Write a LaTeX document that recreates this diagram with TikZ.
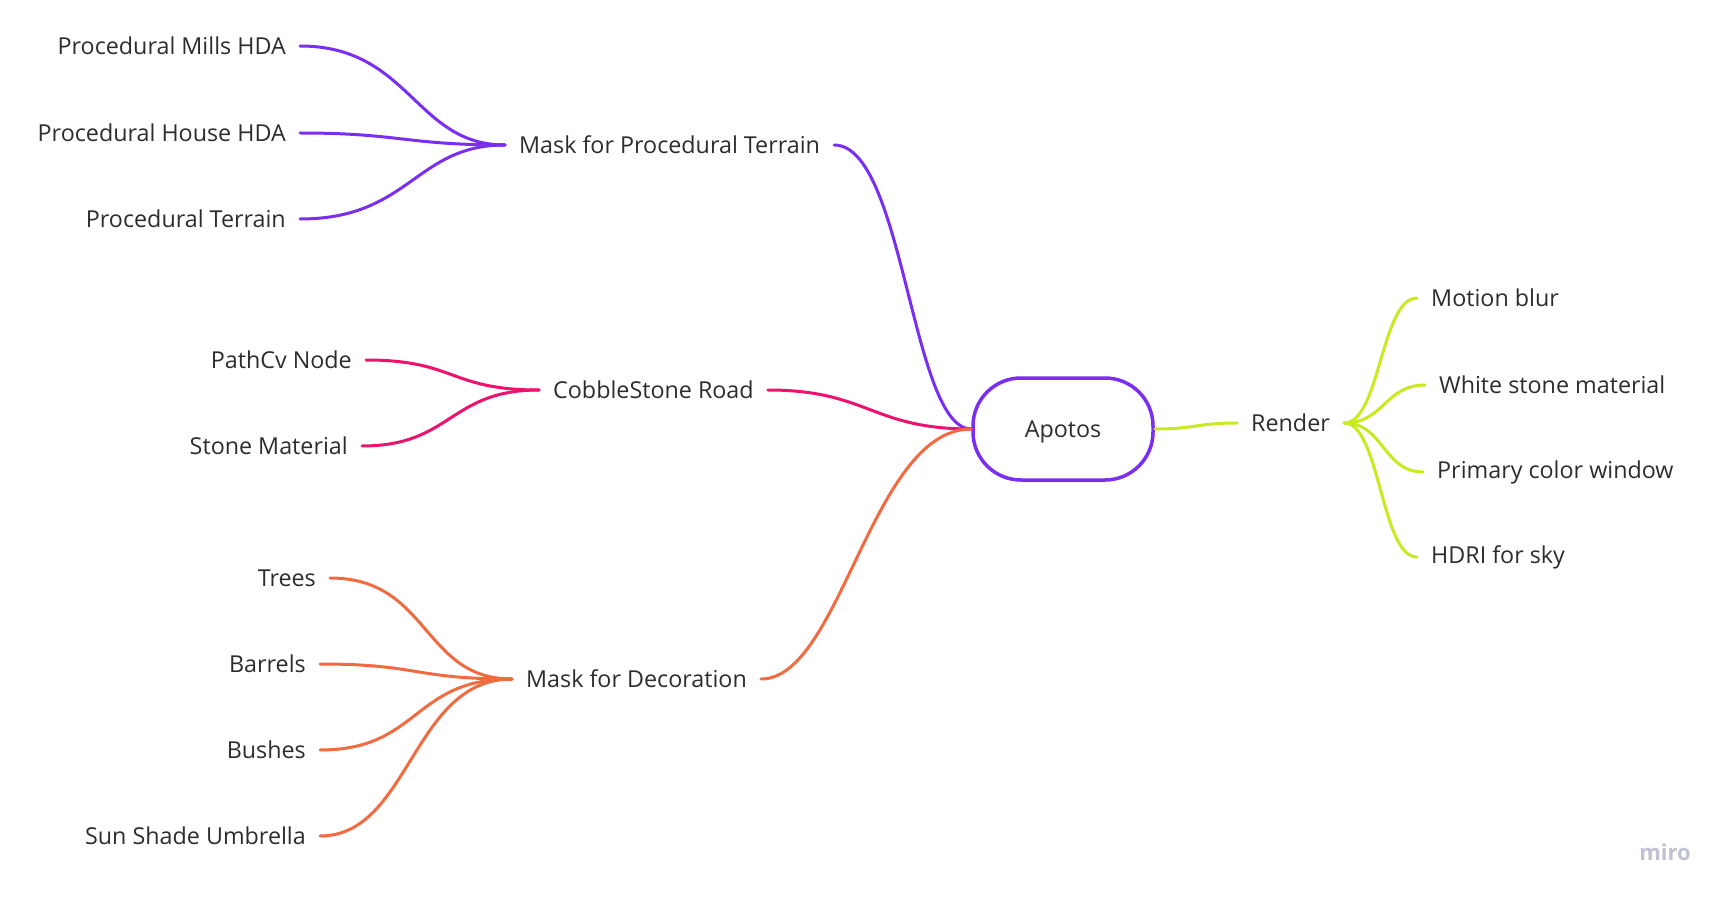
\documentclass[tikz,border=0pt]{standalone}
\usepackage{fontspec}
\setmainfont{Open Sans}
\definecolor{cpurple}{RGB}{122,46,240}
\definecolor{cpink}{RGB}{238,18,110}
\definecolor{corange}{RGB}{242,106,64}
\definecolor{clime}{RGB}{200,234,30}
\definecolor{ctext}{RGB}{45,45,45}
\definecolor{cmiro}{RGB}{192,194,212}
\tikzset{
  lbl/.style={font=\fontsize{23.3}{27}\selectfont, text=ctext, inner xsep=14pt, inner ysep=0pt},
  conn/.style={line width=3pt, line cap=round},
}
\begin{document}
\begin{tikzpicture}[x=1pt,y=-1pt]
\useasboundingbox[fill=white] (0,0) rectangle (1732,901);
% left subtrees
\node[lbl, anchor=east] (mills) at (300,46) {Procedural Mills HDA};
\node[lbl, anchor=east] (house) at (300,133) {Procedural House HDA};
\node[lbl, anchor=east] (terr) at (300,219) {Procedural Terrain};
\node[lbl, anchor=west] (mpt) at (505,145) {Mask for Procedural Terrain};

\node[lbl, anchor=east] (pathcv) at (366,360) {PathCv Node};
\node[lbl, anchor=east] (stone) at (362,446) {Stone Material};
\node[lbl, anchor=west] (cobble) at (539,390) {CobbleStone Road};

\node[lbl, anchor=east] (trees) at (330,578) {Trees};
\node[lbl, anchor=east] (barrels) at (320,664) {Barrels};
\node[lbl, anchor=east] (bushes) at (320,750) {Bushes};
\node[lbl, anchor=east] (sun) at (320,836) {Sun Shade Umbrella};
\node[lbl, anchor=west] (mdec) at (512,679) {Mask for Decoration};

% root
\node[draw=cpurple, line width=3.5pt, rounded corners=48pt, minimum width=180pt, minimum height=102pt,
      font=\fontsize{23.3}{27}\selectfont, text=ctext, text depth=0pt] (apotos) at (1063,429) {Apotos};

% right subtree
\node[lbl, anchor=west] (render) at (1237,423) {Render};
\node[lbl, anchor=west] (motion) at (1417,298) {Motion blur};
\node[lbl, anchor=west] (white) at (1425,385) {White stone material};
\node[lbl, anchor=west] (primary) at (1423,472) {Primary color window};
\node[lbl, anchor=west] (hdri) at (1417,557) {HDRI for sky};

\node[font=\fontsize{22}{26}\selectfont\bfseries, text=cmiro] (miro) at (1665,852) {miro};

% connectors purple
\begin{scope}[conn, draw=cpurple]
\draw (mills.east) .. controls +(110,0) and +(-90,0) .. (mpt.west);
\draw (house.east) .. controls +(100,0) and +(-100,0) .. (mpt.west);
\draw (terr.east) .. controls +(110,0) and +(-90,0) .. (mpt.west);
\draw (mpt.east) .. controls +(70,0) and +(-60,0) .. (apotos.west);
\end{scope}
\begin{scope}[conn, draw=cpink]
\draw (pathcv.east) .. controls +(90,0) and +(-90,0) .. (cobble.west);
\draw (stone.east) .. controls +(90,0) and +(-90,0) .. (cobble.west);
\draw (cobble.east) .. controls +(100,0) and +(-100,0) .. (apotos.west);
\end{scope}
\begin{scope}[conn, draw=corange]
\draw (trees.east) .. controls +(100,0) and +(-90,0) .. (mdec.west);
\draw (barrels.east) .. controls +(100,0) and +(-100,0) .. (mdec.west);
\draw (bushes.east) .. controls +(100,0) and +(-100,0) .. (mdec.west);
\draw (sun.east) .. controls +(90,0) and +(-100,0) .. (mdec.west);
\draw (mdec.east) .. controls +(80,0) and +(-100,0) .. (apotos.west);
\end{scope}
\begin{scope}[conn, draw=clime]
\draw (apotos.east) .. controls +(40,0) and +(-40,0) .. (render.west);
\draw (render.east) .. controls +(36,0) and +(-36,0) .. (motion.west);
\draw (render.east) .. controls +(40,0) and +(-40,0) .. (white.west);
\draw (render.east) .. controls +(40,0) and +(-40,0) .. (primary.west);
\draw (render.east) .. controls +(36,0) and +(-36,0) .. (hdri.west);
\end{scope}
\end{tikzpicture}
\end{document}
